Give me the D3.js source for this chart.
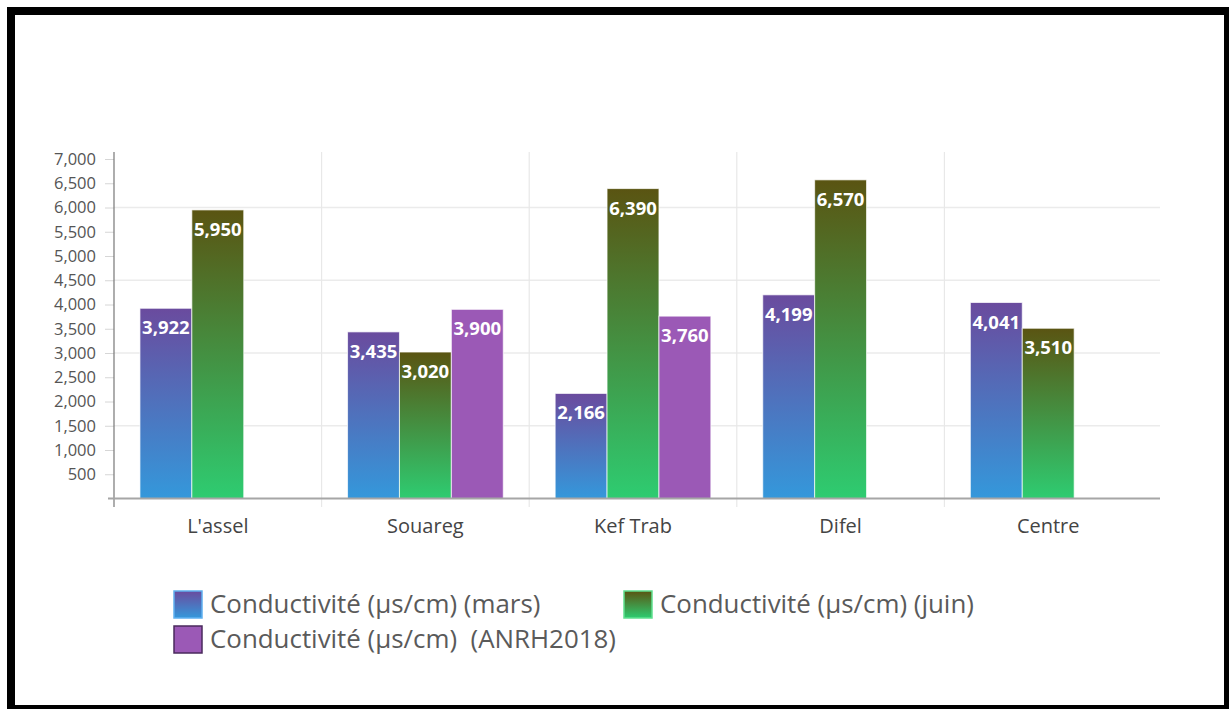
<!DOCTYPE html>
<html>
<head>
<meta charset="utf-8">
<script src="https://cdn.jsdelivr.net/npm/d3@7"></script>
<style>
  html, body { margin: 0; padding: 0; background: #fff; }
  svg { display: block; font-family: "Open Sans", "Noto Sans", sans-serif; }
</style>
</head>
<body>
<svg id="chart" width="1229" height="709"></svg>
<script>
// Sampling sites along the x axis
const categories = ["L'assel", "Souareg", "Kef Trab", "Difel", "Centre"];

// Conductivity series (µs/cm); null where a site has no measurement
const seriesNames = [
  "Conductivité (µs/cm) (mars)",
  "Conductivité (µs/cm) (juin)",
  "Conductivité (µs/cm)  (ANRH2018)"
];
const marsValues = [3922, 3435, 2166, 4199, 4041];
const juinValues = [5950, 3020, 6390, 6570, 3510];
const anrhValues = [null, 3900, 3760, null, null];

// Y axis ticks and grid lines
const yTicks = [500, 1000, 1500, 2000, 2500, 3000, 3500, 4000, 4500, 5000, 5500, 6000, 6500, 7000];
const yGrid = [1500, 3000, 4500, 6000];

const seriesValues = [marsValues, juinValues, anrhValues];
const seriesKeys = ["mars", "juin", "anrh"];

const svg = d3.select("#chart");

// Frame around the figure
svg.append("rect").attr("x", 7).attr("y", 7).attr("width", 1222).attr("height", 702).attr("fill", "#000");
svg.append("rect").attr("x", 15).attr("y", 15).attr("width", 1209).attr("height", 690).attr("fill", "#fff");

// Gradients for the bars
const defs = svg.append("defs");
function vGrad(id, c0, c1) {
  const g = defs.append("linearGradient").attr("id", id)
    .attr("x1", 0).attr("y1", 0).attr("x2", 0).attr("y2", 1);
  g.append("stop").attr("offset", "0%").attr("stop-color", c0);
  g.append("stop").attr("offset", "100%").attr("stop-color", c1);
}
vGrad("g-mars", "#6a4b9e", "#3498db");
vGrad("g-juin", "#5a5412", "#2ecc71");
vGrad("g-anrh", "#9b59b6", "#9b59b6");
const fills = { mars: "url(#g-mars)", juin: "url(#g-juin)", anrh: "url(#g-anrh)" };

const plotLeft = 114, bandRight = 1152, axisRight = 1160, plotTop = 159, plotBottom = 498.5;

const x0 = d3.scaleBand().domain(categories).range([plotLeft, bandRight]).padding(0);
const x1 = d3.scaleBand().domain(seriesKeys).range([0, x0.bandwidth()])
  .paddingInner(0).paddingOuter(0.5);
const y = d3.scaleLinear().domain([0, 7000]).range([plotBottom, plotTop]);

// Horizontal grid lines
svg.append("g").selectAll("line").data(yGrid).join("line")
  .attr("x1", plotLeft).attr("x2", axisRight)
  .attr("y1", d => y(d)).attr("y2", d => y(d))
  .attr("stroke", "#ebebeb").attr("stroke-width", 1.5);

// Vertical separators between sites
svg.append("g").selectAll("line").data(categories.slice(1)).join("line")
  .attr("x1", d => x0(d)).attr("x2", d => x0(d))
  .attr("y1", 152).attr("y2", 507)
  .attr("stroke", "#e8e8e8").attr("stroke-width", 1.2);

// Y axis
const yAxis = d3.axisLeft(y).tickValues(yTicks).tickSize(9).tickPadding(9)
  .tickFormat(d3.format(","));
const gy = svg.append("g").attr("transform", `translate(${plotLeft},0)`).call(yAxis);
gy.select(".domain").remove();
gy.selectAll(".tick line").attr("stroke", "#d6d6d6");
gy.selectAll(".tick text").attr("fill", "#555").style("font-size", "16.5px")
  .style("font-family", "'Open Sans', sans-serif");
svg.append("line").attr("x1", plotLeft).attr("x2", plotLeft).attr("y1", 152).attr("y2", 507)
  .attr("stroke", "#777").attr("stroke-width", 1.2);

// Bars
const barData = [];
categories.forEach((c, i) => {
  seriesKeys.forEach((k, j) => {
    const v = seriesValues[j][i];
    if (v != null) barData.push({ cat: c, key: k, value: v });
  });
});

const gBars = svg.append("g");
gBars.selectAll("rect").data(barData).join("rect")
  .attr("x", d => x0(d.cat) + x1(d.key))
  .attr("y", d => y(d.value))
  .attr("width", x1.bandwidth())
  .attr("height", d => y(0) - y(d.value))
  .attr("fill", d => fills[d.key])
  .attr("stroke", "rgba(255,255,255,0.7)").attr("stroke-width", 1);

// Value labels
gBars.selectAll("text").data(barData).join("text")
  .attr("x", d => x0(d.cat) + x1(d.key) + x1.bandwidth() / 2)
  .attr("y", d => y(d.value) + 26)
  .attr("text-anchor", "middle")
  .attr("fill", "#fff")
  .style("font-size", "18.5px").style("font-weight", "bold")
  .text(d => d3.format(",")(d.value));

// X axis
const xAxis = d3.axisBottom(x0).tickSize(0).tickPadding(20);
const gx = svg.append("g").attr("transform", `translate(0,${plotBottom})`).call(xAxis);
gx.select(".domain").remove();
gx.selectAll(".tick text").attr("fill", "#444").style("font-size", "20px")
  .style("font-family", "'Open Sans', sans-serif");
svg.append("line").attr("x1", 108).attr("x2", axisRight).attr("y1", plotBottom).attr("y2", plotBottom)
  .attr("stroke", "#a6a6a6").attr("stroke-width", 2);

// Legend
const legendItems = [
  { name: seriesNames[0], key: "mars", x: 174, y: 591, stroke: "#5fb0f0" },
  { name: seriesNames[1], key: "juin", x: 624, y: 591, stroke: "#5fe08f" },
  { name: seriesNames[2], key: "anrh", x: 174, y: 626, stroke: "#4a2a5c" }
];
const gl = svg.append("g");
const li = gl.selectAll("g").data(legendItems).join("g")
  .attr("transform", d => `translate(${d.x},${d.y})`);
li.append("rect").attr("width", 28).attr("height", 27)
  .attr("fill", d => fills[d.key]).attr("stroke", d => d.stroke).attr("stroke-width", 1.5);
li.append("text").attr("x", 36).attr("y", 22)
  .attr("fill", "#5a5a5a").style("font-size", "25.9px").style("white-space", "pre")
  .text(d => d.name);
</script>
</body>
</html>
